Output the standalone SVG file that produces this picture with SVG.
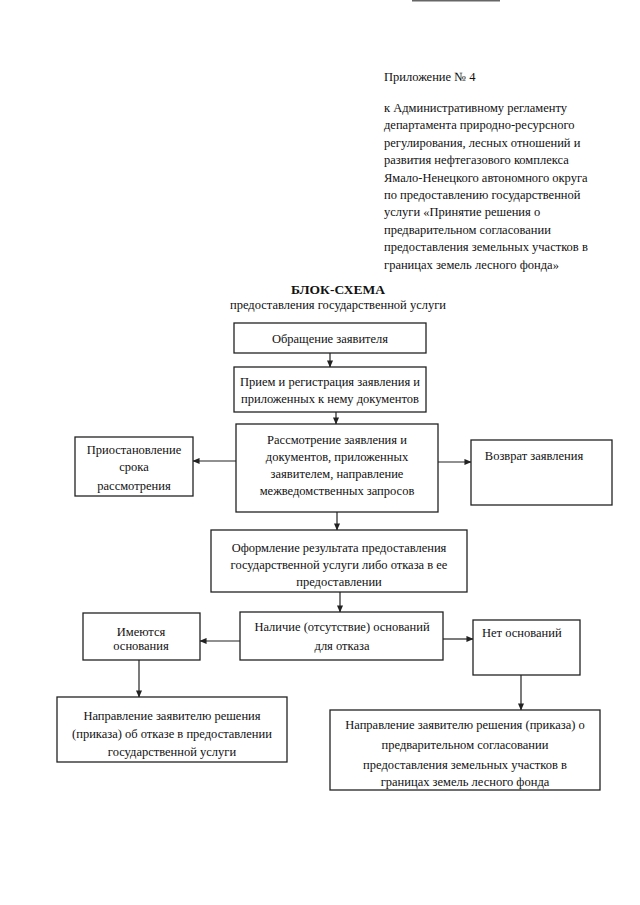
<svg xmlns="http://www.w3.org/2000/svg" width="640" height="905" viewBox="0 0 640 905">
<style>
text{font-family:"Liberation Serif","Times New Roman",serif;font-size:12.5px;fill:#111}
.c{text-anchor:middle}
.b{font-weight:bold;font-size:13.5px}
.box{fill:#fff;stroke:#222;stroke-width:1.3}
.ln{fill:none;stroke:#222;stroke-width:1.2}
</style>
<defs>
<marker id="ah" viewBox="0 0 8 8" refX="7.5" refY="4" markerWidth="7" markerHeight="7" markerUnits="userSpaceOnUse" orient="auto">
<path d="M0,0.5 L8,4 L0,7.5 z" fill="#222"/>
</marker>
</defs>
<rect width="640" height="905" fill="#fff"/>
<rect x="412" y="0" width="88" height="1.5" fill="#666"/>
<g id="header">
<text x="384" y="81">Приложение № 4</text>
<text x="384" y="112">к Административному регламенту</text>
<text x="384" y="129.4">департамента природно-ресурсного</text>
<text x="384" y="146.8">регулирования, лесных отношений и</text>
<text x="384" y="164.2">развития нефтегазового комплекса</text>
<text x="384" y="181.6">Ямало-Ненецкого автономного округа</text>
<text x="384" y="199">по предоставлению государственной</text>
<text x="384" y="216.4">услуги «Принятие решения о</text>
<text x="384" y="233.8">предварительном согласовании</text>
<text x="384" y="251.2">предоставления земельных участков в</text>
<text x="384" y="268.6">границах земель лесного фонда»</text>
</g>
<g id="title">
<text class="c b" x="338" y="294">БЛОК-СХЕМА</text>
<text class="c" x="338" y="309">предоставления государственной услуги</text>
</g>
<g id="connectors">
<line class="ln" x1="330" y1="353" x2="330" y2="367" marker-end="url(#ah)"/>
<line class="ln" x1="336" y1="412" x2="336" y2="424" marker-end="url(#ah)"/>
<line class="ln" x1="236" y1="461" x2="193" y2="461" marker-end="url(#ah)"/>
<line class="ln" x1="438" y1="462" x2="471" y2="462" marker-end="url(#ah)"/>
<line class="ln" x1="337" y1="512" x2="337" y2="530" marker-end="url(#ah)"/>
<line class="ln" x1="340" y1="592" x2="340" y2="612" marker-end="url(#ah)"/>
<line class="ln" x1="240" y1="641" x2="200" y2="641" marker-end="url(#ah)"/>
<line class="ln" x1="443" y1="639" x2="473" y2="639" marker-end="url(#ah)"/>
<line class="ln" x1="139" y1="660" x2="139" y2="697" marker-end="url(#ah)"/>
<line class="ln" x1="521" y1="675" x2="521" y2="710" marker-end="url(#ah)"/>
</g>
<g id="n1">
<rect class="box" x="234" y="323" width="192" height="30"/>
<text class="c" x="330" y="343">Обращение заявителя</text>
</g>
<g id="n2">
<rect class="box" x="234" y="367" width="192" height="45"/>
<text class="c" x="330" y="386">Прием и регистрация заявления и</text>
<text class="c" x="330" y="403">приложенных к нему документов</text>
</g>
<g id="n3">
<rect class="box" x="236" y="424" width="202" height="88"/>
<text class="c" x="337" y="444">Рассмотрение заявления и</text>
<text class="c" x="337" y="461">документов, приложенных</text>
<text class="c" x="337" y="478">заявителем, направление</text>
<text class="c" x="337" y="495">межведомственных запросов</text>
</g>
<g id="n4">
<rect class="box" x="75" y="437" width="118" height="59"/>
<text class="c" x="134" y="454">Приостановление</text>
<text class="c" x="134" y="471">срока</text>
<text class="c" x="134" y="490">рассмотрения</text>
</g>
<g id="n5">
<rect class="box" x="471" y="440" width="141" height="65"/>
<text class="c" x="534" y="460">Возврат заявления</text>
</g>
<g id="n6">
<rect class="box" x="211" y="530" width="256" height="62"/>
<text class="c" x="339" y="552">Оформление результата предоставления</text>
<text class="c" x="339" y="569">государственной услуги либо отказа в ее</text>
<text class="c" x="339" y="586">предоставлении</text>
</g>
<g id="n7">
<rect class="box" x="240" y="612" width="203" height="48"/>
<text class="c" x="342" y="631">Наличие (отсутствие) оснований</text>
<text class="c" x="342" y="650">для отказа</text>
</g>
<g id="n8">
<rect class="box" x="83" y="613" width="117" height="47"/>
<text class="c" x="141" y="636">Имеются</text>
<text class="c" x="141" y="650">основания</text>
</g>
<g id="n9">
<rect class="box" x="473" y="620" width="107" height="55"/>
<text x="482" y="637">Нет оснований</text>
</g>
<g id="n10">
<rect class="box" x="57" y="697" width="230" height="65"/>
<text class="c" x="172" y="720">Направление заявителю решения</text>
<text class="c" x="172" y="738">(приказа) об отказе в предоставлении</text>
<text class="c" x="172" y="756">государственной услуги</text>
</g>
<g id="n11">
<rect class="box" x="330" y="710" width="270" height="80"/>
<text class="c" x="465" y="729">Направление заявителю решения (приказа) о</text>
<text class="c" x="465" y="749">предварительном согласовании</text>
<text class="c" x="465" y="769">предоставления земельных участков в</text>
<text class="c" x="465" y="786">границах земель лесного фонда</text>
</g>
</svg>
